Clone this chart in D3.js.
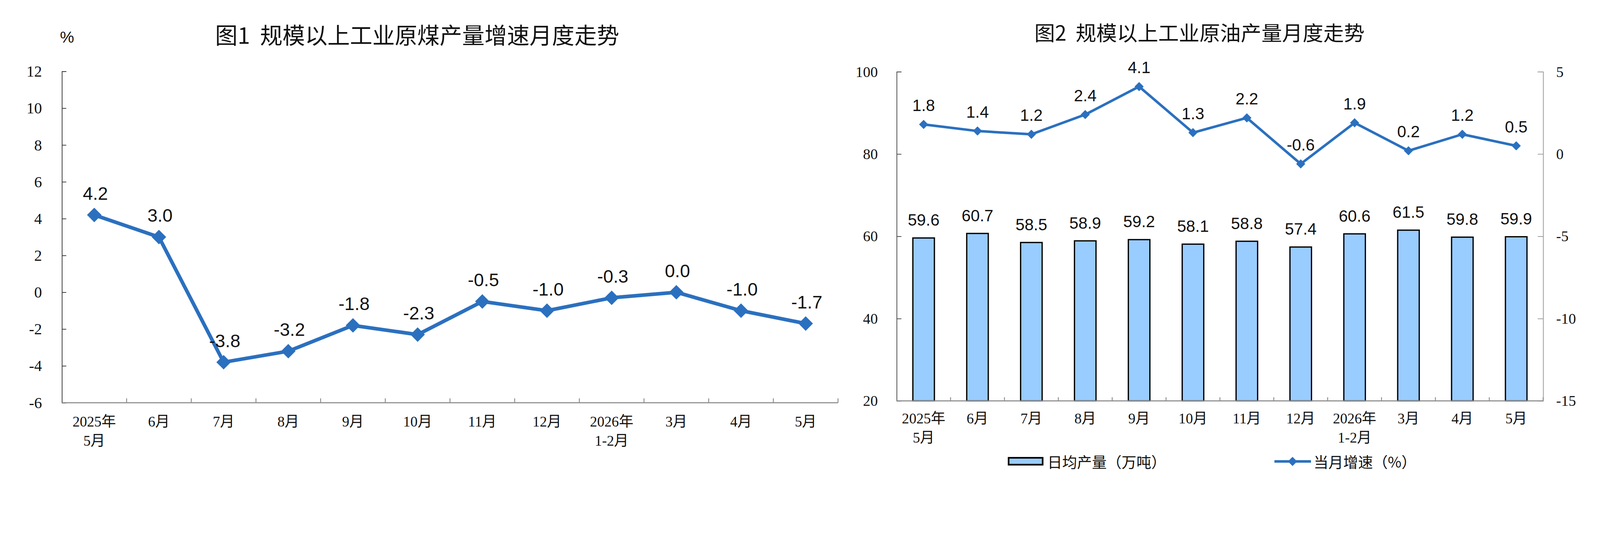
<!DOCTYPE html>
<html>
<head>
<meta charset="utf-8">
<script src="https://cdn.jsdelivr.net/npm/d3@7/dist/d3.min.js"></script>
<style>
  html, body { margin: 0; padding: 0; background: #fff; overflow: hidden; width: 100%; height: 100%; }
  svg { display: block; width: 100vw; height: 100vh; }
</style>
</head>
<body>
<svg id="chart" viewBox="0 0 4418 1394" preserveAspectRatio="xMidYMin meet"></svg>
<script>
// ---------------- DATA ----------------
const categories = [["2025年","5月"],["6月"],["7月"],["8月"],["9月"],["10月"],["11月"],["12月"],["2026年","1-2月"],["3月"],["4月"],["5月"]];
const coalGrowth = [4.2, 3.0, -3.8, -3.2, -1.8, -2.3, -0.5, -1.0, -0.3, 0.0, -1.0, -1.7];
const oilDaily   = [59.6, 60.7, 58.5, 58.9, 59.2, 58.1, 58.8, 57.4, 60.6, 61.5, 59.8, 59.9];
const oilGrowth  = [1.8, 1.4, 1.2, 2.4, 4.1, 1.3, 2.2, -0.6, 1.9, 0.2, 1.2, 0.5];
const coalTicks  = [-6, -4, -2, 0, 2, 4, 6, 8, 10, 12];
const oilLeftTicks  = [20, 40, 60, 80, 100];
const oilRightTicks = [-15, -10, -5, 0, 5];
const title1 = "图1\u00a0\u00a0规模以上工业原煤产量增速月度走势";
const title2 = "图2\u00a0\u00a0规模以上工业原油产量月度走势";
const unit1 = "%";
const legendBar = "日均产量（万吨）";
const legendLine = "当月增速（%）";

// ---------------- STYLE ----------------
const BLUE = "#2B70BF";
const BARFILL = "#99CCFF";
const CJK = "'Noto Sans CJK SC', sans-serif";
const SANS = "'Liberation Sans', Arial, sans-serif";
const SERIF = "'Liberation Serif', 'Times New Roman', serif";
const XLAB = "'Liberation Serif', 'Noto Sans CJK SC', serif";

const fmt1 = d => d3.format(".1f")(d).replace("\u2212", "-");
const fmtInt = d => String(d);

const svg = d3.select("#chart");
const keys = categories.map((c, i) => i);

function diamond(size) {
  return d3.symbol().type(d3.symbolSquare).size(size)();
}

function xAxisBand(g, x, y0, tickLen, fs, row1, row2) {
  const bw = x.bandwidth();
  const x0 = x.range()[0], x1 = x.range()[1];
  g.append("line").attr("x1", x0).attr("x2", x1).attr("y1", y0).attr("y2", y0)
    .attr("stroke", "#8c8c8c").attr("stroke-width", 3);
  const bounds = keys.map(k => x(k)).concat([x(keys[keys.length - 1]) + bw]);
  g.selectAll(".xt").data(bounds.slice(1)).join("line")
    .attr("x1", d => d).attr("x2", d => d).attr("y1", y0).attr("y2", y0 - tickLen)
    .attr("stroke", "#8c8c8c").attr("stroke-width", 2.5);
  const lab = g.selectAll(".xl").data(categories).join("text")
    .attr("text-anchor", "middle")
    .attr("font-family", XLAB).attr("font-size", fs).attr("fill", "#111");
  lab.each(function (d, i) {
    const t = d3.select(this);
    d.forEach((line, j) => {
      t.append("tspan").attr("x", x(i) + bw / 2)
        .attr("y", (j === 0 ? row1 : row2) + 0.35 * fs).text(line);
    });
  });
}

// ================= CHART 1 =================
{
  const g = svg.append("g");
  const x = d3.scaleBand().domain(keys).range([171, 2314]).padding(0);
  const y = d3.scaleLinear().domain([-6, 12]).range([1111, 197]);

  const ya = d3.axisLeft(y).tickValues(coalTicks).tickSize(-12).tickPadding(55).tickFormat(fmtInt);
  const yg = g.append("g").attr("transform", "translate(171,0)").call(ya);
  yg.select(".domain").attr("stroke", "#333").attr("stroke-width", 2);
  yg.selectAll(".tick line").attr("stroke", "#333").attr("stroke-width", 2);
  yg.selectAll(".tick text").attr("font-family", SERIF).attr("font-size", 43).attr("fill", "#111").attr("dy", "0.33em");

  xAxisBand(g, x, 1111, 12, 40, 1163, 1216);

  const cx = i => x(i) + x.bandwidth() / 2;
  const line = d3.line().x((d, i) => cx(i)).y(d => y(d));
  g.append("path").datum(coalGrowth).attr("d", line)
    .attr("fill", "none").attr("stroke", BLUE).attr("stroke-width", 10).attr("stroke-linejoin", "round");
  g.selectAll(".m").data(coalGrowth).join("path")
    .attr("d", diamond(800))
    .attr("transform", (d, i) => `translate(${cx(i)},${y(d)}) rotate(45)`)
    .attr("fill", BLUE);
  g.selectAll(".lbl").data(coalGrowth).join("text")
    .attr("x", (d, i) => cx(i) + 3).attr("y", d => y(d) - 42)
    .attr("text-anchor", "middle").attr("font-family", SANS).attr("font-size", 50).attr("fill", "#111")
    .text(fmt1);

  g.append("text").attr("x", 185).attr("y", 102 + 0.35 * 44).attr("text-anchor", "middle")
    .attr("font-family", SANS).attr("font-size", 44).attr("fill", "#111").text(unit1);
  g.append("text").attr("x", 1152).attr("y", 99 + 0.36 * 62).attr("text-anchor", "middle")
    .attr("font-family", CJK).attr("font-size", 62).attr("fill", "#111").text(title1);
}

// ================= CHART 2 =================
{
  const g = svg.append("g");
  const x = d3.scaleBand().domain(keys).range([2476, 4261]).padding(0);
  const yL = d3.scaleLinear().domain([20, 100]).range([1106, 198]);
  const yR = d3.scaleLinear().domain([-15, 5]).range([1106, 198]);

  const yla = d3.axisLeft(yL).tickValues(oilLeftTicks).tickSize(-13).tickPadding(52).tickFormat(fmtInt);
  const ylg = g.append("g").attr("transform", "translate(2476,0)").call(yla);
  ylg.select(".domain").attr("stroke", "#444").attr("stroke-width", 2);
  ylg.selectAll(".tick line").attr("stroke", "#444").attr("stroke-width", 2);
  ylg.selectAll(".tick text").attr("font-family", SERIF).attr("font-size", 41).attr("fill", "#111").attr("dy", "0.33em");

  const yra = d3.axisRight(yR).tickValues(oilRightTicks).tickSize(-15).tickPadding(36).tickFormat(fmtInt);
  const yrg = g.append("g").attr("transform", "translate(4261,0)").call(yra);
  yrg.select(".domain").attr("stroke", "#999").attr("stroke-width", 2);
  yrg.selectAll(".tick line").attr("stroke", "#999").attr("stroke-width", 2);
  yrg.selectAll(".tick text").attr("font-family", SERIF).attr("font-size", 41).attr("fill", "#111").attr("dy", "0.33em");

  const bw = x.bandwidth() * 0.4;
  const cx = i => x(i) + x.bandwidth() / 2;
  g.selectAll(".bar").data(oilDaily).join("rect")
    .attr("x", (d, i) => cx(i) - bw / 2).attr("width", bw)
    .attr("y", d => yL(d)).attr("height", d => yL(20) - yL(d))
    .attr("fill", BARFILL).attr("stroke", "#000").attr("stroke-width", 3.5);
  g.selectAll(".blbl").data(oilDaily).join("text")
    .attr("x", (d, i) => cx(i)).attr("y", d => yL(d) - 34)
    .attr("text-anchor", "middle").attr("font-family", SANS).attr("font-size", 45).attr("fill", "#111")
    .text(fmt1);

  xAxisBand(g, x, 1106, 10, 40, 1154, 1207);

  const line = d3.line().x((d, i) => cx(i)).y(d => yR(d));
  g.append("path").datum(oilGrowth).attr("d", line)
    .attr("fill", "none").attr("stroke", BLUE).attr("stroke-width", 7).attr("stroke-linejoin", "round");
  g.selectAll(".m").data(oilGrowth).join("path")
    .attr("d", diamond(320))
    .attr("transform", (d, i) => `translate(${cx(i)},${yR(d)}) rotate(45)`)
    .attr("fill", BLUE);
  g.selectAll(".llbl").data(oilGrowth).join("text")
    .attr("x", (d, i) => cx(i)).attr("y", d => yR(d) - 37)
    .attr("text-anchor", "middle").attr("font-family", SANS).attr("font-size", 45).attr("fill", "#111")
    .text(fmt1);

  g.append("text").attr("x", 3312).attr("y", 91.5 + 0.36 * 57).attr("text-anchor", "middle")
    .attr("font-family", CJK).attr("font-size", 57).attr("fill", "#111").text(title2);

  const lg = g.append("g");
  lg.append("rect").attr("x", 2785).attr("y", 1263).attr("width", 94).attr("height", 19)
    .attr("fill", BARFILL).attr("stroke", "#000").attr("stroke-width", 4.5);
  lg.append("text").attr("x", 2892).attr("y", 1275 + 0.36 * 41)
    .attr("font-family", CJK).attr("font-size", 41).attr("fill", "#111").text(legendBar);
  lg.append("line").attr("x1", 3519).attr("x2", 3620).attr("y1", 1273).attr("y2", 1273)
    .attr("stroke", BLUE).attr("stroke-width", 7);
  lg.append("path").attr("d", diamond(320)).attr("transform", "translate(3569,1273) rotate(45)").attr("fill", BLUE);
  lg.append("text").attr("x", 3627).attr("y", 1275 + 0.36 * 41)
    .attr("font-family", CJK).attr("font-size", 41).attr("fill", "#111").text(legendLine);
}
</script>
</body>
</html>
